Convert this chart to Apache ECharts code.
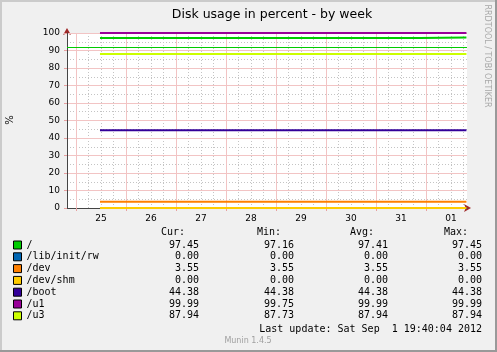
<!DOCTYPE html>
<html>
<head>
<meta charset="utf-8">
<script src="https://cdn.jsdelivr.net/npm/echarts@6/dist/echarts.min.js"></script>
<style>
  html, body { margin: 0; padding: 0; background: #F0F0F0; }
  #chart { width: 497px; height: 352px; }
</style>
</head>
<body>
<div id="chart"></div>
<script>
// hours after 25 Aug 2012 00:00
var times = [11.5, 165, 187.4]
var names = ['/', '/lib/init/rw', '/dev', '/dev/shm', '/boot', '/u1', '/u3']
var rootVals = [97.16, 97.45, 97.45]
var libInitRwVals = [0, 0, 0]
var devVals = [3.55, 3.55, 3.55]
var devShmVals = [0, 0, 0]
var bootVals = [44.38, 44.38, 44.38]
var u1Vals = [99.99, 99.99, 99.99]
var u3Vals = [87.94, 87.94, 87.94]
var rootWarning = 92

// legend table
var curVals = ['97.45', '0.00', '3.55', '0.00', '44.38', '99.99', '87.94']
var minVals = ['97.16', '0.00', '3.55', '0.00', '44.38', '99.75', '87.73']
var avgVals = ['97.41', '0.00', '3.55', '0.00', '44.38', '99.99', '87.94']
var maxVals = ['97.45', '0.00', '3.55', '0.00', '44.38', '99.99', '87.94']
var lastUpdate = 'Last update: Sat Sep  1 19:40:04 2012'

// x axis: window Aug 24 19:40 .. Sep 1 19:40
var xMin = -4.333
var xMax = 187.667
var dayLabels = ['25', '26', '27', '28', '29', '30', '31', '01']
var labelHours = [12, 36, 60, 84, 108, 132, 156, 180]
var midnightHours = [0, 24, 48, 72, 96, 120, 144, 168]
var sixHourTicks = [6, 12, 18, 30, 36, 42, 54, 60, 66, 78, 84, 90, 102, 108, 114, 126, 132, 138, 150, 156, 162, 174, 180, 186]

var colors = ['#00CC00', '#0066B3', '#FF8000', '#FFCC00', '#330099', '#990099', '#CCFF00']
var seriesVals = [rootVals, libInitRwVals, devVals, devShmVals, bootVals, u1Vals, u3Vals]

var myChart = echarts.init(document.getElementById('chart'))

var sans = 'DejaVu Sans'
var mono = 'DejaVu Sans Mono'
var rowTop = 245
var rowH = 11.8

var series = names.map(function (name, i) {
  var s = {
    name: name,
    type: 'line',
    xAxisIndex: 1,
    yAxisIndex: 1,
    z: 5,
    data: times.map(function (t, j) { return [t, seriesVals[i][j]] }),
    showSymbol: false,
    clip: false,
    itemStyle: { color: colors[i] },
    lineStyle: { color: colors[i], width: 2 }
  }
  if (i === 0) {
    s.step = 'end'
    s.markLine = {
      silent: true,
      symbol: 'none',
      label: { show: false },
      lineStyle: { color: '#00CC00', width: 1, type: 'solid' },
      data: [{ yAxis: rootWarning }]
    }
  }
  return s
})

// 图例右侧的数值表
var texts = []
function txt (x, y, s, align) {
  texts.push({ type: 'text', x: x, y: y, style: { text: s, fill: '#000', font: '10px ' + mono, textAlign: align, textVerticalAlign: 'middle' } })
}
txt(185, 232, 'Cur:', 'right')
txt(281, 232, 'Min:', 'right')
txt(374, 232, 'Avg:', 'right')
txt(468, 232, 'Max:', 'right')
names.forEach(function (n, i) {
  var y = rowTop + i * rowH
  txt(199, y, curVals[i], 'right')
  txt(294, y, minVals[i], 'right')
  txt(388, y, avgVals[i], 'right')
  txt(482, y, maxVals[i], 'right')
})
txt(482, 329, lastUpdate, 'right')

var gridMinor = { color: '#C4C4C4', width: 1, type: [1, 2] }
var gridMajor = { color: '#F2C4C4', width: 1, type: 'solid' }
var arrowLine = {
  show: true, onZero: false,
  lineStyle: { color: '#A02828', width: 1 },
  symbol: ['none', 'arrow'], symbolSize: [6, 7]
}

var options = {
  backgroundColor: '#F0F0F0',
  animation: false,
  title: {
    text: 'Disk usage in percent - by week',
    left: 267,
    top: 3,
    textAlign: 'center',
    textStyle: { fontFamily: sans, fontSize: 12.5, fontWeight: 'normal', color: '#000' }
  },
  grid: {
    left: 67, right: 30, top: 33, bottom: 144,
    show: true, backgroundColor: '#FFFFFF', borderWidth: 0
  },
  legend: {
    orient: 'vertical',
    left: 13,
    top: rowTop - rowH / 2,
    padding: 0,
    itemWidth: 8,
    itemHeight: 8,
    itemGap: 0,
    icon: 'rect',
    selectedMode: false,
    itemStyle: { borderColor: '#000', borderWidth: 1 },
    textStyle: { fontFamily: mono, fontSize: 10, lineHeight: rowH, color: '#000' },
    data: names
  },
  xAxis: [
    {
      // 6 小时的细网格 + 红色箭头
      type: 'value', min: xMin, max: xMax, position: 'bottom', z: 0,
      axisLine: Object.assign({}, arrowLine, { symbolOffset: [0, 4] }),
      axisLabel: { show: false },
      axisTick: { show: false, customValues: sixHourTicks },
      splitLine: { show: true, lineStyle: gridMinor }
    },
    {
      type: 'value', min: xMin, max: xMax, position: 'bottom', z: 2,
      axisLine: { show: true, onZero: false, lineStyle: { color: '#444', width: 1 } },
      axisTick: { show: true, length: 3, customValues: midnightHours, lineStyle: { color: '#E8A0A0' } },
      splitLine: { show: true, lineStyle: gridMajor },
      axisLabel: {
        customValues: labelHours,
        margin: 6,
        fontFamily: sans, fontSize: 9, color: '#000',
        formatter: function (v) { return dayLabels[labelHours.indexOf(v)] }
      }
    }
  ],
  yAxis: [
    {
      type: 'value', min: 0, max: 100, interval: 10, position: 'left', z: 0,
      axisLine: Object.assign({}, arrowLine, { symbolOffset: [0, 5] }),
      axisTick: { show: false },
      axisLabel: { show: false },
      splitLine: { show: false }
    },
    {
      type: 'value', min: 0, max: 100, interval: 10, position: 'left', z: 2,
      axisLine: { show: true, onZero: false, lineStyle: { color: '#444', width: 1 } },
      axisTick: { show: true, length: 3, lineStyle: { color: '#E8A0A0' } },
      minorTick: { show: false, splitNumber: 2 },
      minorSplitLine: { show: true, lineStyle: gridMinor },
      splitLine: { show: true, lineStyle: gridMajor },
      axisLabel: { margin: 7, fontFamily: sans, fontSize: 9, color: '#000' }
    }
  ],
  graphic: [
    { type: 'rect', shape: { x: 0, y: 0, width: 497, height: 2 }, style: { fill: '#CBCBCB' }, silent: true },
    { type: 'rect', shape: { x: 0, y: 0, width: 2, height: 352 }, style: { fill: '#CBCBCB' }, silent: true },
    { type: 'rect', shape: { x: 0, y: 350, width: 497, height: 2 }, style: { fill: '#999999' }, silent: true },
    { type: 'rect', shape: { x: 495, y: 0, width: 2, height: 352 }, style: { fill: '#999999' }, silent: true },
    { type: 'text', x: 10, y: 120, rotation: Math.PI / 2, style: { text: '%', fill: '#000', font: '10px ' + sans, textAlign: 'center', textVerticalAlign: 'middle' } },
    { type: 'text', x: 487, y: 56, rotation: -Math.PI / 2, style: { text: 'RRDTOOL / TOBI OETIKER', fill: '#A8A8A8', font: '8px ' + sans, textAlign: 'center', textVerticalAlign: 'middle' } },
    { type: 'text', x: 248, y: 341, style: { text: 'Munin 1.4.5', fill: '#A0A0A0', font: '8px ' + sans, textAlign: 'center', textVerticalAlign: 'middle' } }
  ].concat(texts),
  series: series
}

myChart.setOption(options)
</script>
</body>
</html>
